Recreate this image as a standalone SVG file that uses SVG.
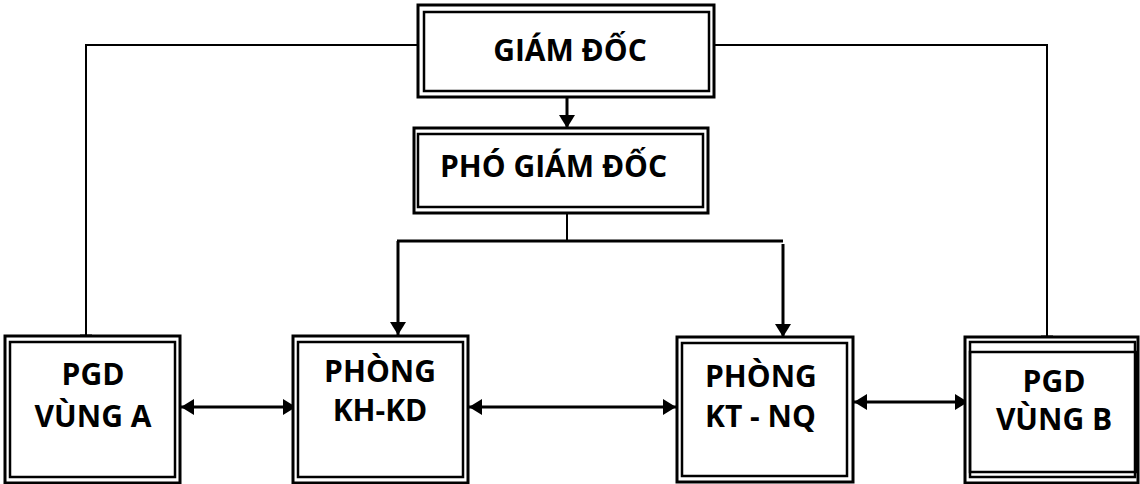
<svg xmlns="http://www.w3.org/2000/svg" width="1140" height="484" viewBox="0 0 1140 484">
<style>
.o{fill:#fff;stroke:#000;stroke-width:3}
.i{fill:none;stroke:#000;stroke-width:2.5}
.t{font-family:"Open Sans","Liberation Sans",sans-serif;font-weight:700;font-size:30px;fill:#000}
.c{fill:none;stroke:#000;stroke-width:2}
.a{fill:none;stroke:#000;stroke-width:3}
</style>
<defs>
<marker id="ah" viewBox="0 0 13 16" refX="13" refY="8" markerWidth="13" markerHeight="16" markerUnits="userSpaceOnUse" orient="auto-start-reverse">
<path d="M0,0 L13,8 L0,16 z" fill="#000"/>
</marker>
</defs>
<rect width="1140" height="484" fill="#fff"/>
<g id="connectors">
<polyline class="c" points="418,45 86,45 86,336"/>
<line class="a" x1="80" y1="336" x2="92" y2="336"/>
<polyline class="c" points="714,45 1047,45 1047,337"/>
<line class="a" x1="1041" y1="337" x2="1053" y2="337"/>
<line class="a" x1="567" y1="97" x2="567" y2="128" marker-end="url(#ah)"/>
<line class="c" x1="567" y1="213" x2="567" y2="241"/>
<line class="a" x1="397" y1="241" x2="783" y2="241"/>
<line class="a" x1="398" y1="241" x2="398" y2="335" marker-end="url(#ah)"/>
<line class="a" x1="783" y1="244" x2="783" y2="337" marker-end="url(#ah)"/>
<line class="a" x1="181" y1="407" x2="296" y2="407" marker-start="url(#ah)" marker-end="url(#ah)"/>
<line class="a" x1="469" y1="407" x2="676" y2="407" marker-start="url(#ah)" marker-end="url(#ah)"/>
<line class="a" x1="854" y1="402" x2="968" y2="402" marker-start="url(#ah)" marker-end="url(#ah)"/>
</g>
<g id="giam-doc">
<rect class="o" x="418" y="5" width="296" height="92"/>
<rect class="i" x="424" y="12" width="285" height="79"/>
<text class="t" x="570" y="61" text-anchor="middle">GIÁM ĐỐC</text>
</g>
<g id="pho-giam-doc">
<rect class="o" x="414" y="128" width="294" height="85"/>
<rect class="i" x="418" y="134" width="285" height="73"/>
<text class="t" x="440" y="177">PHÓ GIÁM ĐỐC</text>
</g>
<g id="pgd-vung-a">
<rect class="o" x="5" y="336" width="175" height="147"/>
<rect class="i" x="10" y="342" width="165" height="135"/>
<text class="t" x="93" y="385" text-anchor="middle">PGD</text>
<text class="t" x="93" y="427" text-anchor="middle">VÙNG A</text>
</g>
<g id="phong-kh-kd">
<rect class="o" x="293" y="336" width="175" height="147"/>
<rect class="i" x="298" y="342" width="165" height="135"/>
<text class="t" x="380" y="382" text-anchor="middle">PHÒNG</text>
<text class="t" x="380" y="421" text-anchor="middle">KH-KD</text>
</g>
<g id="phong-kt-nq">
<rect class="o" x="677" y="337" width="176" height="145"/>
<rect class="i" x="682" y="343" width="165" height="133"/>
<text class="t" x="705" y="387">PHÒNG</text>
<text class="t" x="705" y="427">KT - NQ</text>
</g>
<g id="pgd-vung-b">
<rect class="o" x="965" y="337" width="173" height="146"/>
<rect class="i" x="970" y="342" width="165" height="135"/>
<rect class="i" x="970" y="352" width="166" height="120"/>
<text class="t" x="1054" y="392" text-anchor="middle">PGD</text>
<text class="t" x="1054" y="430" text-anchor="middle">VÙNG B</text>
</g>
</svg>
